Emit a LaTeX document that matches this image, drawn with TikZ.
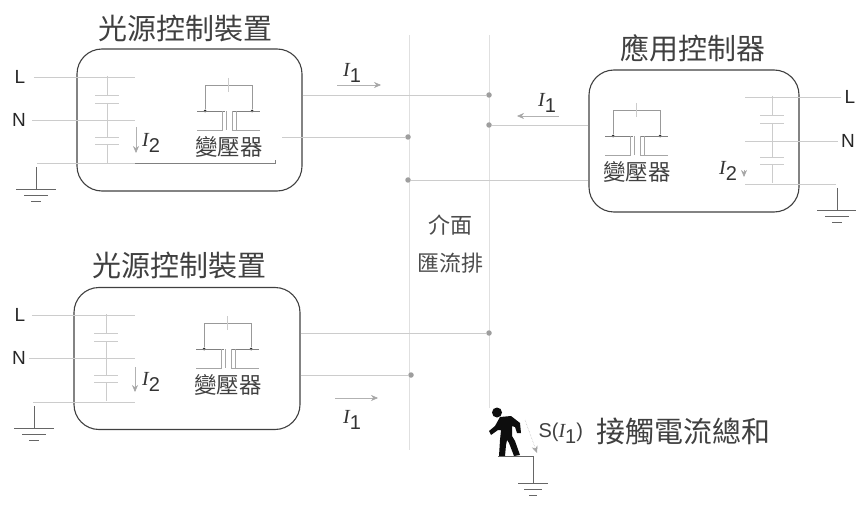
\documentclass[tikz,border=0pt]{standalone}
\usepackage{fontspec}
\setmainfont{Liberation Sans}
\newfontfamily\cjk{Noto Sans CJK TC}
\newfontfamily\serifit[Scale=1]{Liberation Serif}
\usepackage{xcolor}
\usetikzlibrary{arrows.meta, positioning}
\newcommand{\curr}[1]{{\serifit\itshape I}\raisebox{-0.28em}{#1}}

\begin{document}
\begin{tikzpicture}[x=1pt, y=-1pt,
  devbox/.style={draw=black!75, line width=1.1pt, rounded corners=25pt, minimum height=142pt, inner sep=0pt},
  wire/.style={draw=black!20, line width=0.6pt},
  bus/.style={draw=black!12, line width=0.6pt},
  dark/.style={draw=black!50, line width=0.7pt},
  gnd/.style={draw=black!60, line width=0.8pt},
  dot/.style={circle, fill=black!38, inner sep=0pt, minimum size=5.5pt},
  tdot/.style={circle, fill=black!85, inner sep=0pt, minimum size=3pt},
  flow/.style={draw=black!30, line width=0.5pt, arrows={-Stealth[length=7pt, width=6pt, color=black!35]}},
  title/.style={text=black!75, font=\cjk\fontsize{29}{29}\selectfont},
  small/.style={text=black!75, font=\cjk\fontsize{22.5}{23}\selectfont},
  mid/.style={text=black!70, font=\cjk\fontsize{22}{22}\selectfont},
  mains/.style={text=black!85, font=\fontsize{19}{19}\selectfont},
  cur/.style={text=black!80, font=\fontsize{20}{20}\selectfont}]
  \useasboundingbox (0,0) rectangle (856,513);

  % the three boxes
  \node[devbox, minimum width=225pt] (src1) at (189.5,120) {};
  \node[devbox, minimum width=226pt] (src2) at (187,358.5) {};
  \node[devbox, minimum width=210pt] (ctl) at (694,141) {};
  \node[title] (t1) at (185,28) {光源控制裝置};
  \node[title] (t2) at (179,265) {光源控制裝置};
  \node[title] (t3) at (693,48) {應用控制器};

  % bus
  \coordinate (b1top) at (409,35);
  \coordinate (b1end) at (409,450);
  \coordinate (b2top) at (489,35);
  \coordinate (b2end) at (489,408);
  \draw[bus] (b1top) -- (b1end);
  \draw[bus] (b2top) -- (b2end);
  \node[mid] (m1) at (450,225) {介面};
  \node[mid] (m2) at (450,263) {匯流排};

  \node[dot] (d1) at (489,95) {};
  \node[dot] (d2) at (408,137) {};
  \node[dot] (d3) at (489,125) {};
  \node[dot] (d4) at (408,180) {};
  \node[dot] (d5) at (489,333) {};
  \node[dot] (d6) at (411,375) {};
  \coordinate (w2) at (282,137);
  \draw[wire] (src1.east |- d1) -- (d1);
  \draw[wire] (w2) -- (d2);
  \draw[wire] (ctl.west |- d3) -- (d3);
  \draw[wire] (ctl.west |- d4) -- (d4);
  \draw[wire] (src2.east |- d5) -- (d5);
  \draw[wire] (src2.east |- d6) -- (d6);

  % transformers
  \foreach \i/\tx/\ty in {1/205/111, 2/204/349, 3/613/136} {
    \begin{scope}[shift={(\tx,\ty)}]
      \node[tdot] (Ta\i) at (0,0) {};
      \node[tdot] (Tb\i) at (47,0) {};
      \node[small] (Tl\i) at (24,36) {變壓器};
      \draw[wire, draw=black!40] (Ta\i) -- ++(0,-26) -| (Tb\i);
      \draw[wire] (23.5,-33) -- (23.5,-19);
      \draw[dark] (-8,0) -- (20,0) (27,0) -- (55,0);
      \draw[wire, draw=black!35] (-8,19) -- (17,19) -- (17,0) (21,0) -- (21,19);
      \draw[wire, draw=black!35] (55,19) -- (27,19) -- (27,0) (31,0) -- (31,19);
    \end{scope}
  }

  % mains side, L N and earth wires
  \node[mains] (L1) at (20,77) {L};
  \node[mains] (N1) at (19,120) {N};
  \node[mains] (L2) at (20,315) {L};
  \node[mains] (N2) at (19,358) {N};
  \node[mains] (L3) at (850,97) {L};
  \node[mains] (N3) at (848,141) {N};
  \coordinate (e1) at (37,163);
  \coordinate (e1b) at (135,163);
  \coordinate (e1c) at (275,163);
  \coordinate (e2) at (33,402);
  \coordinate (e3) at (836,184);
  \draw[wire, shorten <=5pt] (L1) -- ++(115,0);
  \draw[wire, shorten <=3pt] (N1) -- ++(116,0);
  \draw[wire] (e1) -- (e1b);
  \draw[dark] (e1b) -- (e1c) -- ++(0,-3);
  \draw[wire, shorten <=3pt] (L2) -- ++(115,0);
  \draw[wire] (N2) -- ++(116,0);
  \draw[wire] (e2) -- ++(102,0);
  \draw[wire] (L3) -- ++(-105,0);
  \draw[wire] (N3) -- ++(-103,0);
  \draw[wire] (e3) -- ++(-91,0);

  \foreach \i/\sx/\sy in {1/107/76, 2/106/314, 3/772/96} {
    \begin{scope}[shift={(\sx,\sy)}]
      \coordinate (cap\i) at (0,0);
      \draw[wire] (cap\i) -- ++(0,19);
      \draw[wire] (-12,19) -- (12,19) (-12,27) -- (12,27);
      \draw[wire] (0,27) -- (0,61);
      \draw[wire] (-12,61) -- (12,61) (-12,68) -- (12,68);
      \draw[wire] (0,68) -- (0,87);
    \end{scope}
  }

  % earth symbols
  \foreach \i/\gx/\gy/\gs in {1/36/167/1, 2/34/406/1, 3/837/188/1, 4/533/461/0.75} {
    \begin{scope}[shift={(\gx,\gy)}]
      \coordinate (g\i) at (0,0);
      \draw[gnd] (g\i) -- ++(0,22);
      \draw[gnd] (-20*\gs,22) -- (20*\gs,22);
      \draw[gnd] (-12*\gs,28) -- (12*\gs,28);
      \draw[gnd] (-5*\gs,34) -- (5*\gs,34);
    \end{scope}
  }

  % currents
  \coordinate (a1s) at (337,85);
  \coordinate (a1e) at (381,85);
  \coordinate (a2s) at (136,127);
  \coordinate (a2e) at (136,153);
  \coordinate (a3s) at (559,116);
  \coordinate (a3e) at (517,116);
  \coordinate (a4s) at (135,367);
  \coordinate (a4e) at (135,392);
  \coordinate (a5s) at (335,398);
  \coordinate (a5e) at (378,398);
  \coordinate (a6s) at (744,170);
  \coordinate (a6e) at (744,177);
  \draw[flow] (a1s) -- (a1e);
  \draw[flow] (a2s) -- (a2e);
  \draw[flow] (a3s) -- (a3e);
  \draw[flow] (a4s) -- (a4e);
  \draw[flow] (a5s) -- (a5e);
  \draw[flow] (a6s) -- (a6e);
  \node[cur] (i1) at (352,73) {\curr{1}};
  \node[cur] (i2) at (151,143) {\curr{2}};
  \node[cur] (i3) at (547,103) {\curr{1}};
  \node[cur] (i4) at (151,382) {\curr{2}};
  \node[cur] (i5) at (352,420) {\curr{1}};
  \node[cur] (i6) at (728,171) {\curr{2}};

  % person on the ground
  \fill[black!95] (497,412.5) circle (5);
  \fill[black!95] (500,417) -- (511,416) -- (520,423) -- (521,433) -- (517,433) -- (515,427)
    -- (512,426) -- (512,436) -- (515,441) -- (520,455) -- (514,456) -- (509,443) -- (507,440)
    -- (506,445) -- (505,456) -- (499,456) -- (500,440) -- (501,430) -- (498,430) -- (491,435)
    -- (489,431) -- (495,426) -- cycle;
  \coordinate (foot) at (498,456);
  \draw[gnd, line width=1pt] (foot) -| (g4);
  \coordinate (p1) at (525,420);
  \coordinate (p2) at (537,453);
  \draw[flow, densely dotted] (p1) -- (p2);
  \node[anchor=west, text=black!75, font=\fontsize{20}{20}\selectfont] (s1) at (535,433) {S(\curr{1})};
  \node[title, anchor=west] (s2) at (593,431) {接觸電流總和};
\end{tikzpicture}
\end{document}
